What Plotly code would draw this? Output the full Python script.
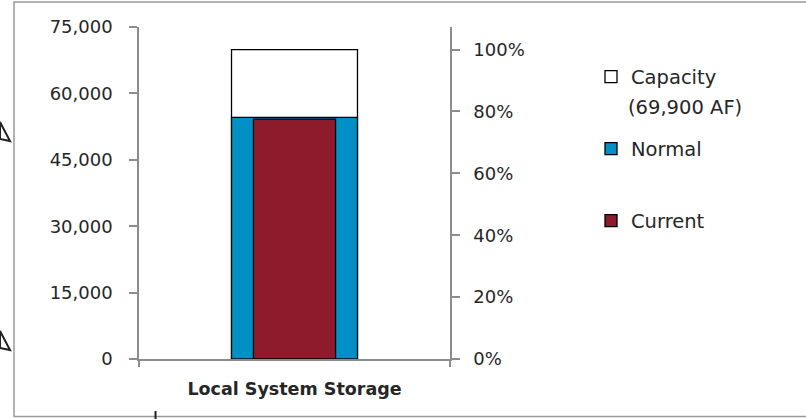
import plotly.graph_objects as go

# ---- data ----
category = ["Local System Storage"]
capacity_af = [69900]
normal_af = [54600]
current_af = [54200]
legend_names = ["Capacity", "Normal", "Current"]
capacity_note = "(69,900 AF)"
left_ticks = [0, 15000, 30000, 45000, 60000, 75000]
right_ticks = [0, 0.2, 0.4, 0.6, 0.8, 1.0]

W, H = 806, 419
L, R, T, B = 139, 356, 27, 60
PW, PH = W - L - R, H - T - B


def px_x(px):
    return (px - L) / PW


def px_y(py):
    return (H - B - py) / PH


FONT = "DejaVu Sans"
AXC = "#8c8c8c"
TXT = "#262626"
LEGFS = 19.5

fig = go.Figure()
fig.add_trace(go.Bar(
    x=category, y=capacity_af, name=legend_names[0], width=0.405,
    marker=dict(color="white", line=dict(color="black", width=1.3)),
    legend="legend", yaxis="y"))
fig.add_trace(go.Bar(
    x=category, y=normal_af, name=legend_names[1], width=0.405,
    marker=dict(color="#0090C6", line=dict(color="black", width=1.3)),
    legend="legend2", yaxis="y"))
fig.add_trace(go.Bar(
    x=category, y=current_af, name=legend_names[2], width=0.264,
    marker=dict(color="#8E1B2C", line=dict(color="black", width=1.3)),
    legend="legend3", yaxis="y"))
# invisible trace to activate the right axis
fig.add_trace(go.Scatter(x=category, y=[0], yaxis="y2", mode="markers",
                         marker=dict(opacity=0), showlegend=False, hoverinfo="skip"))

leg_common = dict(font=dict(family=FONT, size=LEGFS, color=TXT), bgcolor="rgba(0,0,0,0)",
                  xanchor="left", yanchor="middle", valign="middle", itemwidth=30)
shapes = [
    dict(type="rect", xref="paper", yref="paper", x0=px_x(14), x1=px_x(830),
         y0=px_y(416.5), y1=px_y(2), line=dict(color="#9a9a9a", width=1.5)),
    dict(type="path", xref="paper", yref="paper",
         path=f"M {px_x(0)},{px_y(122)} L {px_x(10)},{px_y(141)} L {px_x(0)},{px_y(139)} Z",
         line=dict(color="#222", width=2)),
    dict(type="path", xref="paper", yref="paper",
         path=f"M {px_x(0)},{px_y(331)} L {px_x(10)},{px_y(350)} L {px_x(0)},{px_y(348)} Z",
         line=dict(color="#222", width=2)),
    dict(type="line", xref="paper", yref="paper", x0=px_x(155.5), x1=px_x(155.5),
         y0=px_y(411), y1=px_y(420), line=dict(color="#222", width=2)),
]

fig.update_layout(
    width=W, height=H,
    margin=dict(l=L, r=R, t=T, b=B),
    paper_bgcolor="white", plot_bgcolor="white",
    barmode="overlay",
    font=dict(family=FONT, size=18, color=TXT),
    showlegend=True,
    legend=dict(x=px_x(591), y=px_y(77), **leg_common),
    legend2=dict(x=px_x(591), y=px_y(149), **leg_common),
    legend3=dict(x=px_x(591), y=px_y(221), **leg_common),
    annotations=[dict(text=capacity_note, xref="paper", yref="paper", x=px_x(626),
                      y=px_y(107), xanchor="left", yanchor="middle", showarrow=False,
                      font=dict(family=FONT, size=LEGFS, color=TXT))],
    xaxis=dict(type="category", range=[-0.5, 0.5], showline=True, linecolor=AXC, linewidth=1.5,
               ticks="outside", tickson="boundaries", ticklen=6, tickcolor=AXC, tickwidth=1.5,
               tickfont=dict(family=FONT, size=17.5, color=TXT, weight="bold"),
               showgrid=False, zeroline=False, ticklabelstandoff=13),
    yaxis=dict(range=[0, 75000], tickvals=left_ticks, tickformat=",d", showline=True,
               linecolor=AXC, linewidth=1.5, ticks="outside", ticklen=8, tickcolor=AXC,
               tickwidth=1.5, showgrid=False, zeroline=False,
               tickfont=dict(family=FONT, size=18, color=TXT), ticklabelstandoff=13),
    yaxis2=dict(range=[0, 75000 / 69900], tickvals=right_ticks, tickformat=".0%",
                overlaying="y", side="right", showline=True, linecolor=AXC, linewidth=1.5,
                ticks="outside", ticklen=8, tickcolor=AXC, tickwidth=1.5, showgrid=False,
                zeroline=False, tickfont=dict(family=FONT, size=18, color=TXT),
                ticklabelstandoff=10),
    shapes=shapes,
)

fig.write_html("out.html")
